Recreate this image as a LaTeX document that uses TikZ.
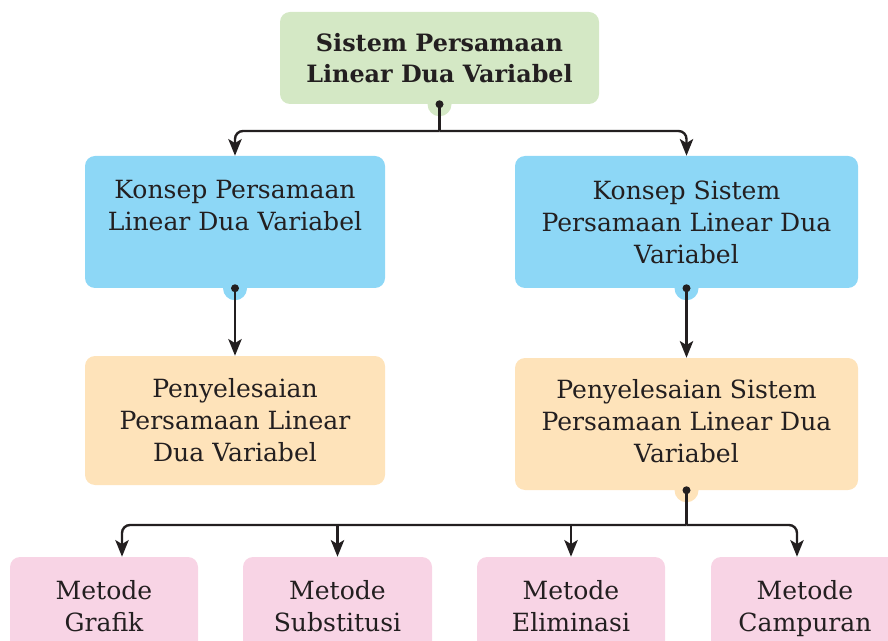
\documentclass[tikz,border=0pt]{standalone}
\usepackage{fontspec}
\setmainfont{DejaVu Serif}
\usetikzlibrary{arrows.meta}
\definecolor{gr}{HTML}{D4E8C5}
\definecolor{bl}{HTML}{8DD7F6}
\definecolor{orn}{HTML}{FEE3BA}
\definecolor{pk}{HTML}{F8D4E5}
\definecolor{ink}{HTML}{231F20}
\begin{document}
\begin{tikzpicture}[x=0.75pt,y=-0.75pt,
  box/.style={rounded corners=7.5pt, inner sep=0pt, text=ink, align=center,
    font=\fontsize{18.8}{24}\selectfont},
  txt/.style={inner sep=0pt, text=ink, align=center,
    font=\fontsize{18.8}{24}\selectfont},
  pbox/.style={box, fill=pk, minimum width=141pt, minimum height=73.5pt,
    text height=44pt, text depth=5.5pt},
  conn/.style={draw=ink, line width=1.8pt, rounded corners=6pt,
    -{Stealth[length=12.5pt,width=10pt,inset=3pt]}},
  stem/.style={draw=ink, line width=1.8pt},
  dot/.style={fill=ink},
]
\useasboundingbox (0,0) rectangle (888,641);
\clip (0,0) rectangle (888,641);
% nodes
\node[box, fill=gr, minimum width=239.25pt, minimum height=69pt,
  font=\fontsize{17.9}{23.5}\selectfont\bfseries] (top) at (439.5,58)
  {Sistem Persamaan\\Linear Dua Variabel};
\node[box, fill=bl, minimum width=225pt, minimum height=99pt] (b1) at (235,222) {};
\node[txt] (b1t) at (235,206) {Konsep Persamaan\\Linear Dua Variabel};
\node[box, fill=bl, minimum width=257.25pt, minimum height=99pt] (b2) at (686.5,222)
  {Konsep Sistem\\Persamaan Linear Dua\\Variabel};
\node[box, fill=orn, minimum width=225pt, minimum height=96.75pt] (o1) at (235,420.5)
  {Penyelesaian\\Persamaan Linear\\Dua Variabel};
\node[box, fill=orn, minimum width=257.25pt, minimum height=99pt] (o2) at (686.5,424) {};
\node[txt] (o2t) at (686.5,421.5) {Penyelesaian Sistem\\Persamaan Linear Dua\\Variabel};
\node[pbox] (m1) at (104,606) {Metode\\Grafik};
\node[pbox, minimum width=141.75pt] (m2) at (337.5,606) {Metode\\Substitusi};
\node[pbox] (m3) at (571,606) {Metode\\Eliminasi};
\node[pbox] (m4) at (805,606) {Metode\\Campuran};
% tabs
\fill[gr] (top.south) circle (9pt);
\fill[bl] (b1.south) circle (9pt);
\fill[bl] (b2.south) circle (9pt);
\fill[orn] (o2.south) circle (9pt);
% connectors
\coordinate (t1) at (439.5,131);
\coordinate (t2) at (686.5,525);
\draw[stem] (top.south) -- (t1);
\draw[conn] (t1) -| (b1.north);
\draw[conn] (t1) -| (b2.north);
\draw[conn] (b1.south) -- (o1.north);
\draw[conn] (b2.south) -- (o2.north);
\draw[stem] (o2.south) -- (t2);
\draw[conn] (t2) -| ([xshift=13.5pt]m1.north);
\draw[conn] (t2) -| ([xshift=-6pt]m4.north);
\draw[conn] (m2.north |- t2) -- (m2.north);
\draw[conn] (m3.north |- t2) -- (m3.north);
% dots
\fill[dot] (top.south) circle (3pt);
\fill[dot] (b1.south) circle (3pt);
\fill[dot] (b2.south) circle (3pt);
\fill[dot] (o2.south) circle (3pt);
\end{tikzpicture}
\end{document}
